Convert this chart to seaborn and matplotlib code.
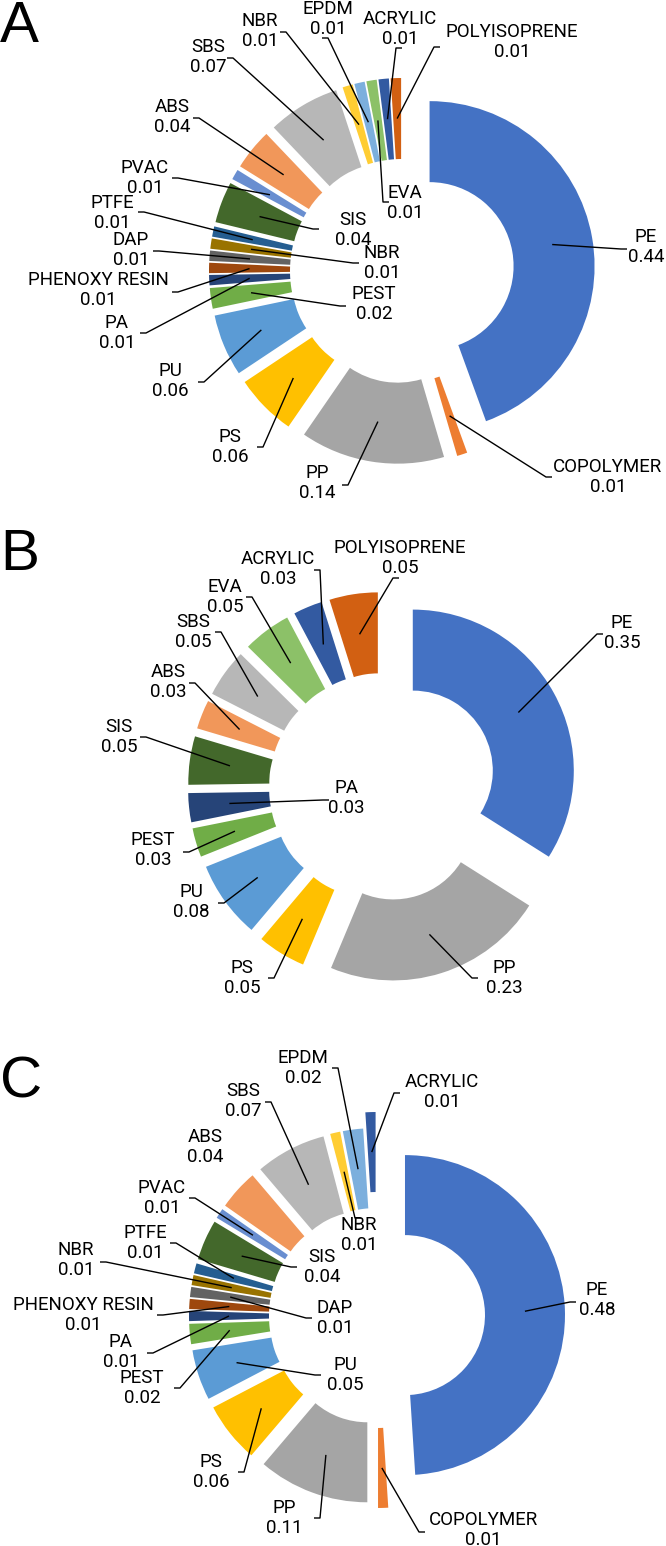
import numpy as np
import matplotlib
matplotlib.use("Agg")
import matplotlib.pyplot as plt
import seaborn as sns

# categories in the order they run clockwise from 12 o'clock
categories = ['PE', 'COPOLYMER', 'PP', 'PS', 'PU', 'PEST', 'PA', 'PHENOXY RESIN',
              'DAP', 'NBR', 'PTFE', 'SIS', 'PVAC', 'ABS', 'SBS', 'NBR', 'EPDM',
              'EVA', 'ACRYLIC', 'POLYISOPRENE']

values_a = [0.44, 0.01, 0.14, 0.06, 0.06, 0.02, 0.01, 0.01, 0.01, 0.01,
            0.01, 0.04, 0.01, 0.04, 0.07, 0.01, 0.01, 0.01, 0.01, 0.01]
values_b = [0.35, 0, 0.23, 0.05, 0.08, 0.03, 0.03, 0, 0, 0,
            0, 0.05, 0, 0.03, 0.05, 0, 0, 0.05, 0.03, 0.05]
values_c = [0.48, 0.01, 0.11, 0.06, 0.05, 0.02, 0.01, 0.01, 0.01, 0.01,
            0.01, 0.04, 0.01, 0.04, 0.07, 0.01, 0.02, 0, 0.01, 0]

# office style colour cycle
palette = sns.color_palette(['#4472C4', '#ED7D31', '#A5A5A5', '#FFC000', '#5B9BD5', '#70AD47',
                             '#264478', '#9E480E', '#636363', '#997300', '#255E91', '#43682B',
                             '#698ED0', '#F1975A', '#B7B7B7', '#FFCD33', '#7CAFDD', '#8CC168',
                             '#335AA1', '#D26012'])

sns.set_theme(style="white")
plt.rcParams['font.family'] = ['Roboto', 'Liberation Sans', 'DejaVu Sans']

# label centre (lx, ly) and where the leader meets the label (ex, ey), pixel coords
layout_a = [(646, 247, 627, 249), (608, 477, 552, 477), (317, 483, 342, 485),
            (230, 447, 257, 447), (170, 381, 198, 382), (374, 304, 346, 306),
            (117, 333, 140, 333), (98, 290, 172, 292), (131, 250, 153, 251),
            (382, 263, 359, 263), (112, 213, 138, 212), (353, 230, 319, 229),
            (145, 178, 172, 178), (172, 117, 193, 118), (208, 57, 227, 58),
            (260, 31, 280, 32), (328, 19, 322, 38), (405, 203, 389, 202),
            (400, 29, 402, 48), (512, 42, 440, 47)]
layout_b = [(622, 633, 603, 634), (504, 978, 478, 978), (242, 978, 268, 978),
            (191, 902, 218, 903), (153, 850, 183, 852), (346, 798, 329, 800),
            (119, 737, 140, 737), (168, 682, 189, 683), (193, 632, 215, 632),
            (225, 597, 246, 597), (278, 569, 314, 570), (400, 558, 399, 578)]
layout_c = [(597, 1300, 576, 1302), (483, 1530, 425, 1532), (284, 1518, 314, 1518),
            (211, 1472, 238, 1472), (345, 1375, 321, 1375), (142, 1388, 174, 1388),
            (121, 1352, 147, 1353), (83, 1315, 157, 1315), (335, 1318, 312, 1318),
            (76, 1260, 100, 1262), (145, 1243, 170, 1243), (322, 1267, 297, 1267),
            (162, 1198, 189, 1198), (205, 1147, None, None), (243, 1101, 265, 1102),
            (359, 1235, 361, 1218), (303, 1068, 332, 1068), (442, 1092, 400, 1093)]

panels = [
    dict(letter='A', values=values_a, center=(402, 271), R=165, r=84, d=28,
         extra={}, letter_y=0, layout=layout_a),
    dict(letter='B', values=values_b, center=(383, 787), R=161, r=80, d=34,
         extra={}, letter_y=528, layout=layout_b),
    # in C the acrylic slice is pulled out further than the rest
    dict(letter='C', values=values_c, center=(377, 1316), R=160, r=80, d=28,
         extra={18: 44, 1: 32}, letter_y=1055, layout=layout_c),
]

W, H = 666, 1546
fig = plt.figure(figsize=(W / 100, H / 100), dpi=100)
ax = fig.add_axes([0, 0, 1, 1])

for p in panels:
    vals = np.array(p['values'])
    keep = np.where(vals > 0)[0]
    v = vals[keep]
    names = [categories[i] for i in keep]
    cols = [palette[i] for i in keep]
    R, r, d = p['R'], p['r'], p['d']
    explode = [p['extra'].get(i, d) for i in keep]

    # y axis is flipped, so counterclock in data = clockwise on screen
    wedges, _ = ax.pie(v, colors=cols, radius=R, center=p['center'],
                       startangle=-90, counterclock=True, explode=explode,
                       wedgeprops=dict(width=R - r, linewidth=0))

    for w, name, val, (lx, ly, ex, ey) in zip(wedges, names, v, p['layout']):
        mid = np.deg2rad((w.theta1 + w.theta2) / 2)
        rm = w.r - w.width / 2
        px = w.center[0] + rm * np.cos(mid)
        py = w.center[1] + rm * np.sin(mid)
        ax.text(lx, ly, f'{name}\n{val:.2f}', ha='center', va='center',
                fontsize=13.5, linespacing=1.15, color='black')
        if ex is not None:
            tx = ex + 6 * np.sign(px - ex)
            ax.plot([ex, tx, px], [ey, ey, py], color='black', lw=1.0,
                    solid_capstyle='butt')

    ax.text(0, p['letter_y'], p['letter'], ha='left', va='top', fontsize=42,
            family=['Liberation Sans', 'DejaVu Sans'], color='black')

ax.set_xlim(0, W)
ax.set_ylim(H, 0)
ax.set_aspect('equal')
ax.axis('off')

fig.savefig('out.png', dpi=100, facecolor='white')
